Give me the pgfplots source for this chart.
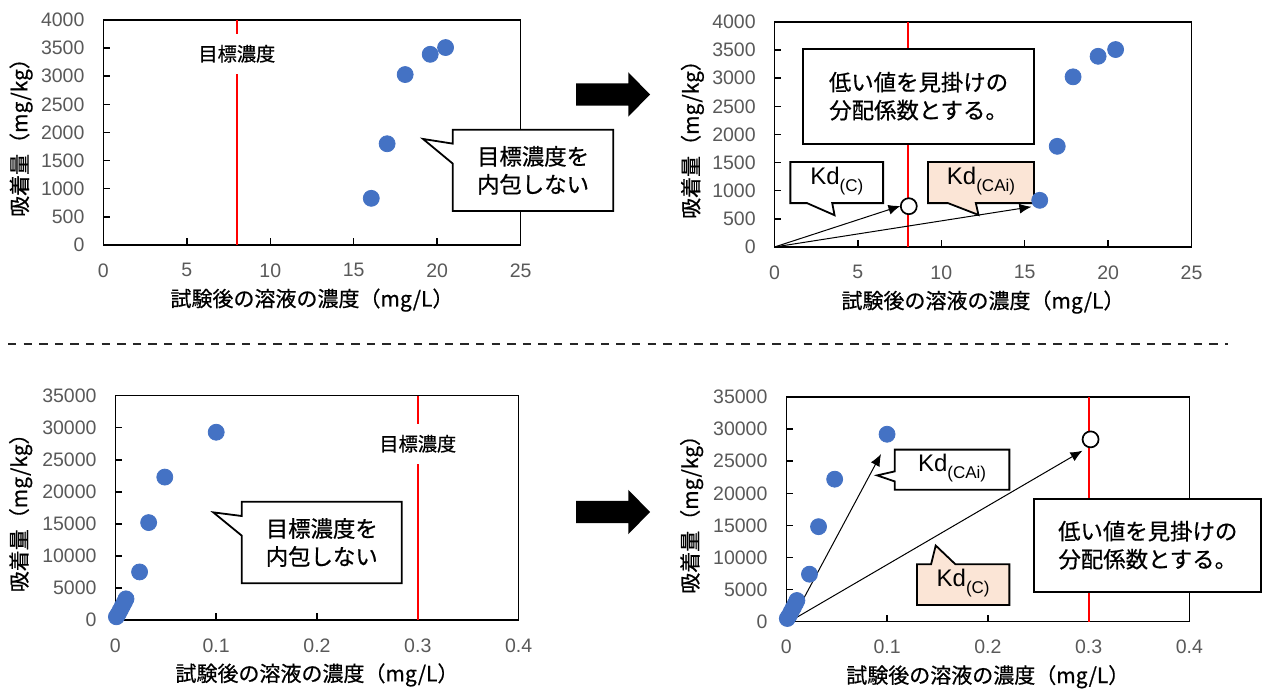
\documentclass[border=0pt]{standalone}
\usepackage{fontspec}
\setmainfont{Liberation Sans}
\newfontfamily\jp{Noto Sans CJK JP}[FakeBold=0.6]
\usepackage{pgfplots}
\pgfplotsset{compat=1.18}
\usetikzlibrary{arrows.meta}
\definecolor{dotblue}{HTML}{4472C4}
\definecolor{peach}{HTML}{FBE5D6}
\definecolor{tickgray}{HTML}{595959}
\pgfplotsset{
  panel/.style={
    scale only axis, anchor=south west, clip=false,
    axis line style={line width=0.75pt, black},
    major tick style={line width=0.75pt, black},
    major tick length=3.3pt,
    tick align=inside, tick pos=left,
    scaled ticks=false,
    ticklabel style={font=\fontsize{9.75}{11}\selectfont, text=tickgray},
    yticklabel style={xshift=-5.9pt},
    xticklabel style={yshift=-5.75pt},
    /pgf/number format/assume math mode=true,
    /pgf/number format/1000 sep={},
    xlabel style={font=\fontsize{10.5}{12}\selectfont\jp, anchor=center},
    ylabel style={font=\fontsize{10.5}{12}\selectfont\jp, anchor=center},
    xlabel={試験後の溶液の濃度（mg/L）},
    ylabel={吸着量（mg/kg）},
  },
  toppanel/.style={panel, xmin=0, xmax=25, ymin=0, ymax=4000,
    xtick={0,5,...,25}, ytick={0,500,...,4000},
    xlabel style={at={(axis description cs:0.5,-0.245)}},
    ylabel style={at={(axis description cs:-0.197,0.5)}}},
  botpanel/.style={panel, xmin=0, xmax=0.4, ymin=0, ymax=35000,
    xtick={0,0.1,0.2,0.3,0.4}, ytick={0,5000,...,35000},
    xlabel style={at={(axis description cs:0.5,-0.245)}},
    ylabel style={at={(axis description cs:-0.235,0.5)}}},
  bluedots/.style={only marks, mark=*, mark size=4pt, mark options={fill=dotblue, draw=dotblue}},
  opendot/.style={only marks, mark=*, mark size=4pt, mark options={fill=white, draw=black, line width=0.85pt}},
  redline/.style={red, line width=1pt},
  kdarrow/.style={black, line width=0.5pt, -{Latex[length=6pt,width=5pt]}},
}
\tikzset{
  callout/.style={draw=black, line width=0.9pt, line join=miter},
  ctext/.style={font=\fontsize{11.2}{14}\selectfont\jp, align=center},
  kdtext/.style={font=\fontsize{12}{13}\selectfont},
  target/.style={fill=white, inner xsep=2pt, inner ysep=5.5pt, font=\fontsize{9.6}{11}\selectfont\jp},
}
\newcommand{\kdsub}[1]{Kd\raisebox{-3.8pt}{\fontsize{8.5}{9}\selectfont #1}}
\begin{document}
\begin{tikzpicture}
\useasboundingbox (0,0) rectangle (636.5pt,345.5pt);
% ---------- top left ----------
\begin{axis}[toppanel, at={(51.65pt,223pt)}, width=208.7pt, height=112.5pt]
\addplot[redline] coordinates {(8,0) (8,4000)};
\addplot[bluedots] coordinates {(16.05,830) (17.0,1800) (18.08,3030) (19.58,3390) (20.5,3510)};
\node[target] at (axis cs:8,3400) {目標濃度};
\draw[callout, fill=white] (axis cs:20.93,2050) -- (axis cs:30.54,2050) -- (axis cs:30.54,604)
  -- (axis cs:20.93,604) -- (axis cs:20.93,1447) -- (axis cs:19.15,1885) -- (axis cs:20.93,1802) -- cycle;
\node[ctext] at (axis cs:25.74,1327) {目標濃度を\\内包しない};
\end{axis}
% ---------- top right ----------
\begin{axis}[toppanel, at={(387.25pt,222pt)}, width=208.5pt, height=112.5pt]
\addplot[redline] coordinates {(8,0) (8,4000)};
\addplot[bluedots] coordinates {(15.9,830) (16.95,1790) (17.9,3025) (19.4,3390) (20.45,3510)};
\addplot[kdarrow] coordinates {(0,0) (7.55,730)};
\addplot[kdarrow] coordinates {(0,0) (15.4,715)};
\addplot[opendot] coordinates {(8.05,725)};
\draw[callout, fill=white] (axis cs:1.71,1837) rectangle (axis cs:15.56,3526);
\node[ctext] at (axis cs:8.635,2681) {低い値を見掛けの\\分配係数とする。};
\draw[callout, fill=white] (axis cs:0.95,1510) -- (axis cs:6.51,1510) -- (axis cs:6.51,780)
  -- (axis cs:3.46,780) -- (axis cs:3.6,565) -- (axis cs:1.95,780) -- (axis cs:0.95,780) -- cycle;
\node[kdtext] at (axis cs:3.73,1170) {\kdsub{(C)}};
\draw[callout, fill=peach] (axis cs:9.2,1510) -- (axis cs:15.56,1510) -- (axis cs:15.56,780)
  -- (axis cs:12.07,780) -- (axis cs:12.23,570) -- (axis cs:10.4,780) -- (axis cs:9.2,780) -- cycle;
\node[kdtext] at (axis cs:12.38,1170) {\kdsub{(CAi)}};
\end{axis}
% ---------- bottom left ----------
\begin{axis}[botpanel, at={(57.7pt,35.5pt)}, width=201.6pt, height=112.15pt]
\addplot[redline] coordinates {(0.3,0) (0.3,35000)};
\addplot[bluedots] coordinates {(0.001,500) (0.003,1000) (0.005,1600) (0.007,2200) (0.009,2800) (0.0105,3300) (0.024,7500) (0.033,15200) (0.049,22300) (0.1,29300)};
\node[target] at (axis cs:0.3,27500) {目標濃度};
\draw[callout, fill=white] (axis cs:0.1254,18462) -- (axis cs:0.2841,18462) -- (axis cs:0.2841,5720)
  -- (axis cs:0.1254,5720) -- (axis cs:0.1254,13157) -- (axis cs:0.0971,16798) -- (axis cs:0.1254,16226) -- cycle;
\node[ctext] at (axis cs:0.20475,12091) {目標濃度を\\内包しない};
\end{axis}
% ---------- bottom right ----------
\begin{axis}[botpanel, at={(393.15pt,34.65pt)}, width=201.5pt, height=112.35pt]
\addplot[redline] coordinates {(0.3,0) (0.3,35000)};
\addplot[bluedots] coordinates {(0.001,500) (0.003,1000) (0.005,1600) (0.007,2200) (0.009,2800) (0.0105,3300) (0.023,7400) (0.032,14800) (0.048,22200) (0.1,29200)};
\addplot[kdarrow] coordinates {(0.0058,260) (0.094,26118)};
\addplot[kdarrow] coordinates {(0.0058,260) (0.294,26640)};
\addplot[opendot] coordinates {(0.302,28400)};
\draw[callout, fill=white] (axis cs:0.246,19150) rectangle (axis cs:0.4715,4680);
\node[ctext] at (axis cs:0.35875,11915) {低い値を見掛けの\\分配係数とする。};
\draw[callout, fill=white] (axis cs:0.1076,26800) -- (axis cs:0.2214,26800) -- (axis cs:0.2214,20550)
  -- (axis cs:0.1076,20550) -- (axis cs:0.1076,21852) -- (axis cs:0.0901,22789) -- (axis cs:0.1076,23413) -- cycle;
\node[kdtext] at (axis cs:0.1645,23900) {\kdsub{(CAi)}};
\draw[callout, fill=peach] (axis cs:0.1297,8950) -- (axis cs:0.1437,8950) -- (axis cs:0.1483,11862)
  -- (axis cs:0.1678,8950) -- (axis cs:0.2214,8950) -- (axis cs:0.2214,2600) -- (axis cs:0.1297,2600) -- cycle;
\node[kdtext] at (axis cs:0.1755,5990) {\kdsub{(C)}};
\end{axis}
% ---------- block arrows and separator ----------
\fill[black] (288pt,303.85pt) -- (314.15pt,303.85pt) -- (314.15pt,309.35pt) -- (325pt,298.25pt)
  -- (314.15pt,287.15pt) -- (314.15pt,292.65pt) -- (288pt,292.65pt) -- cycle;
\fill[black] (288pt,95.1pt) -- (314.15pt,95.1pt) -- (314.15pt,100.6pt) -- (325pt,89.5pt)
  -- (314.15pt,78.4pt) -- (314.15pt,83.9pt) -- (288pt,83.9pt) -- cycle;
\draw[black!85, line width=1.2pt, dash pattern=on 4.2pt off 3.6pt] (4pt,173.5pt) -- (614pt,173.5pt);
\end{tikzpicture}
\end{document}
